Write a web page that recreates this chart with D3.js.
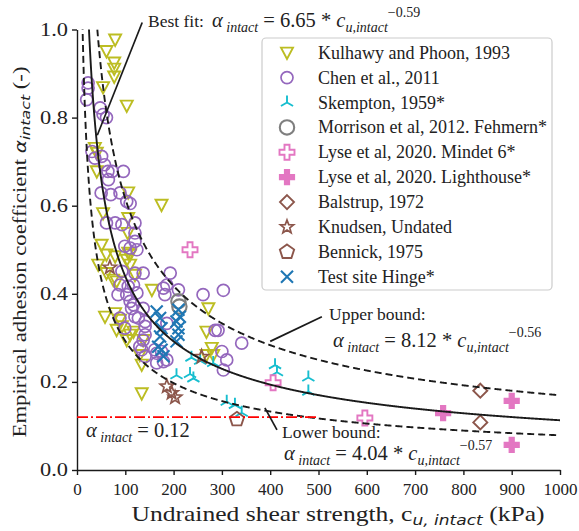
<!DOCTYPE html>
<html>
<head>
<meta charset="utf-8">
<script src="https://cdn.jsdelivr.net/npm/d3@7"></script>
<style>
  body { margin: 0; background: #fff; }
  svg { display: block; }
  svg text { font-family: "Liberation Serif", "Times New Roman", serif; }
</style>
</head>
<body>
<svg id="chart" width="579" height="531"></svg>
<script>
// ---- data: [c_u,intact (kPa), alpha_intact] ----
const kulhawy = [
  [79,0.977],[61,0.951],[77,0.925],[77,0.911],[77,0.893],[54,0.869],[103,0.827],
  [37,0.731],[41,0.72],[41,0.678],[175,0.602],[106,0.63],[54,0.583],[106,0.572],[105,0.538],
  [51,0.511],[61,0.489],[79,0.485],[106,0.493],[110,0.489],[44,0.466],[103,0.477],[110,0.466],
  [61,0.447],[75,0.432],[82,0.428],[120,0.443],[155,0.409],
  [79,0.356],[58,0.348],[89,0.341],[82,0.318],[93,0.326],[117,0.314],[110,0.307],[137,0.295],
  [103,0.295],[130,0.261],[134,0.239],[134,0.174],
  [272,0.367],[268,0.314],[279,0.277],[282,0.261],[268,0.261]
];
const chen = [
  [23,0.879],[23,0.867],[20,0.841],[48,0.822],[54,0.807],[61,0.80],
  [31,0.723],[37,0.708],[51,0.712],[57,0.693],[64,0.678],[73,0.678],[96,0.678],[65,0.659],
  [50,0.629],[70,0.625],[89,0.629],[103,0.61],[110,0.605],
  [61,0.561],[79,0.561],[93,0.557],[120,0.561],[120,0.538],[120,0.519],[99,0.508],[110,0.504],[124,0.50],
  [93,0.451],[120,0.447],[137,0.447],[89,0.42],[106,0.417],[117,0.42],[124,0.402],[85,0.398],[103,0.398],
  [110,0.383],[113,0.367],[117,0.375],[137,0.367],[89,0.345],[120,0.348],[127,0.345],[99,0.322],
  [141,0.337],[141,0.326],[141,0.307],[137,0.295],[130,0.28],[134,0.273],[141,0.258],[161,0.273],
  [165,0.265],[175,0.269],[186,0.25],[165,0.243],[179,0.246],
  [179,0.413],[182,0.398],[193,0.447],[186,0.42],[210,0.409],[186,0.333],
  [261,0.398],[303,0.408],[286,0.317],[292,0.317],[341,0.288],[300,0.269],[310,0.25],[303,0.227]
];
const skempton = [
  [206,0.215],[234,0.218],[241,0.208],[237,0.255],[255,0.248],[282,0.243],
  [310,0.155],[327,0.148],[341,0.13],[410,0.238],[414,0.222],[479,0.21],[479,0.178]
];
const morrison = [[210,0.383],[212,0.371]];
const lyseMindet = [[234,0.50],[406,0.198],[596,0.118]];
const lyseLighthouse = [[758,0.129],[900,0.157],[900,0.057]];
const balstrup = [[835,0.18],[835,0.108]];
const knudsen = [[68,0.46],[186,0.19],[196,0.175],[203,0.165],[258,0.257]];
const bennick = [[331,0.115]];
const hinge = [
  [165,0.36],[172,0.345],[175,0.322],[172,0.303],[168,0.28],[175,0.273],[179,0.258],
  [210,0.364],[213,0.348],[206,0.337],[210,0.322],[210,0.307],[206,0.292]
];

// power-law fits: alpha = a * cu^b
const bestFit = { a: 6.65, b: -0.59 };
const upperBound = { a: 8.12, b: -0.56 };
const lowerBound = { a: 4.04, b: -0.57 };
const alphaMin = 0.12;
const alphaMinExtent = [0, 500];

const xTicks = [0,100,200,300,400,500,600,700,800,900,1000];
const yTicks = [0,0.2,0.4,0.6,0.8,1.0];

const legendLabels = [
  "Kulhawy and Phoon, 1993","Chen et al., 2011","Skempton, 1959*",
  "Morrison et al, 2012. Fehmern*","Lyse et al, 2020. Mindet 6*","Lyse et al, 2020. Lighthouse*",
  "Balstrup, 1972","Knudsen, Undated","Bennick, 1975","Test site Hinge*"
];

// ---- scales ----
const svg = d3.select("#chart");
const x = d3.scaleLinear().domain([0, 1000]).range([77, 560]);
const y = d3.scaleLinear().domain([0, 1]).range([470, 29.5]);
const ink = "#1a1a1a";

// ---- marker shapes ----
const poly = pts => "M" + pts.map(p => p.join(",")).join("L") + "Z";
const shapes = {
  triDown: s => poly([[-s,-s*0.85],[s,-s*0.85],[0,s*1.05]]),
  triArms: s => `M0,0L0,${-s}M0,0L${-0.866*s},${0.5*s}M0,0L${0.866*s},${0.5*s}`,
  plus: s => { const a = s/3; return poly([[-a,-s],[a,-s],[a,-a],[s,-a],[s,a],[a,a],[a,s],[-a,s],[-a,a],[-s,a],[-s,-a],[-a,-a]]); },
  diamond: s => poly([[0,-s],[s,0],[0,s],[-s,0]]),
  star: s => { const p = []; for (let i = 0; i < 10; i++) { const r = i % 2 ? s*0.42 : s; const t = -Math.PI/2 + i*Math.PI/5; p.push([r*Math.cos(t), r*Math.sin(t)]); } return poly(p); },
  pentagon: s => { const p = []; for (let i = 0; i < 5; i++) { const t = -Math.PI/2 + i*2*Math.PI/5; p.push([s*Math.cos(t), s*Math.sin(t)]); } return poly(p); },
  cross: s => `M${-s},${-s}L${s},${s}M${-s},${s}L${s},${-s}`,
  circle: s => `M${s},0A${s},${s} 0 1,1 ${-s},0A${s},${s} 0 1,1 ${s},0Z`
};

const series = [
  { data: kulhawy, shape: "triDown", size: 6, stroke: "#bcbd22", fill: "none", sw: 1.9 },
  { data: chen, shape: "circle", size: 6, stroke: "#9467bd", fill: "none", sw: 1.7 },
  { data: skempton, shape: "triArms", size: 7, stroke: "#17becf", fill: "none", sw: 1.9 },
  { data: morrison, shape: "circle", size: 7.2, stroke: "#7f7f7f", fill: "none", sw: 2.1 },
  { data: lyseMindet, shape: "plus", size: 7.5, stroke: "#e377c2", fill: "#fff", sw: 1.9 },
  { data: lyseLighthouse, shape: "plus", size: 7.5, stroke: "#e377c2", fill: "#e377c2", sw: 1.2 },
  { data: balstrup, shape: "diamond", size: 7, stroke: "#8c564b", fill: "none", sw: 1.9 },
  { data: knudsen, shape: "star", size: 7, stroke: "#8c564b", fill: "none", sw: 1.7 },
  { data: bennick, shape: "pentagon", size: 7.5, stroke: "#8c564b", fill: "none", sw: 1.9 },
  { data: hinge, shape: "cross", size: 6, stroke: "#1f77b4", fill: "none", sw: 2.1 }
];

// ---- axes ----
const xAxis = svg.append("g").attr("transform", "translate(0,470)")
  .call(d3.axisBottom(x).tickValues(xTicks).tickSize(5).tickSizeOuter(0).tickPadding(8).tickFormat(d3.format("d")));
const yAxis = svg.append("g").attr("transform", "translate(77,0)")
  .call(d3.axisLeft(y).tickValues(yTicks).tickSize(5).tickSizeOuter(0).tickPadding(4).tickFormat(d3.format(".1f")));
[xAxis, yAxis].forEach(g => {
  g.attr("font-family", null);
  g.select(".domain").attr("stroke", ink).attr("stroke-width", 1.4);
  g.selectAll(".tick line").attr("stroke", ink).attr("stroke-width", 1.4);
  g.selectAll(".tick text").attr("font-size", 17).attr("fill", "#222");
});
yAxis.selectAll(".tick text").attr("font-size", 18).attr("textLength", 28).attr("lengthAdjust", "spacingAndGlyphs");

// ---- scatter points ----
const pts = svg.append("g");
series.forEach(s => {
  pts.append("g").selectAll("path").data(s.data).join("path")
    .attr("transform", d => `translate(${x(d[0])},${y(d[1])})`)
    .attr("d", shapes[s.shape](s.size))
    .attr("fill", s.fill).attr("stroke", s.stroke).attr("stroke-width", s.sw);
});

// ---- fit curves ----
svg.append("defs").append("clipPath").attr("id", "plotclip")
  .append("rect").attr("x", 77).attr("y", 29.5).attr("width", 483).attr("height", 440.5);
const cuGrid = d3.range(5, 1000.5, 1);
const curve = f => d3.line().x(c => x(c)).y(c => y(f.a * Math.pow(c, f.b)))(cuGrid);
const curves = svg.append("g").attr("clip-path", "url(#plotclip)");
curves.append("path").attr("d", curve(upperBound)).attr("fill", "none").attr("stroke", ink).attr("stroke-width", 1.9).attr("stroke-dasharray", "7,4");
curves.append("path").attr("d", curve(lowerBound)).attr("fill", "none").attr("stroke", ink).attr("stroke-width", 1.9).attr("stroke-dasharray", "7,4");
curves.append("path").attr("d", curve(bestFit)).attr("fill", "none").attr("stroke", ink).attr("stroke-width", 1.9);

// minimum alpha line
svg.append("line")
  .attr("x1", x(alphaMinExtent[0])).attr("x2", x(alphaMinExtent[1]))
  .attr("y1", y(alphaMin)).attr("y2", y(alphaMin))
  .attr("stroke", "#ff0000").attr("stroke-width", 1.9).attr("stroke-dasharray", "11,3,2,3");

// ---- annotation pointers ----
const pointers = [
  [[42, 0.76], [135, 1.016]],
  [[400, 0.292], [507, 0.348]],
  [[389, 0.141], [414, 0.091]]
];
pointers.forEach(p => svg.append("line")
  .attr("x1", x(p[0][0])).attr("y1", y(p[0][1]))
  .attr("x2", x(p[1][0])).attr("y2", y(p[1][1]))
  .attr("stroke", ink).attr("stroke-width", 1.7));

// formula text: alpha_intact = K * c_{u,intact}^{exp}
function alphaFormula(px, py, rhs, k, e) {
  const t = svg.append("text").attr("x", px).attr("y", py).attr("font-size", 20.5).attr("fill", "#222");
  const add = (txt, o) => {
    const s = t.append("tspan").text(txt);
    if (o.it) s.attr("font-style", "italic");
    if (o.sz) s.attr("font-size", o.sz);
    if (o.dy) s.attr("dy", o.dy);
  };
  add("α", { it: true });
  add(" intact", { it: true, sz: 14, dy: 5 });
  add(" = " + k + (rhs ? " * " : ""), { dy: -5 });
  if (rhs) {
    add("c", { it: true });
    add("u,intact", { it: true, sz: 14, dy: 5 });
    add(e, { sz: 14, dy: -15 });
  }
  return t;
}

const label = (px, py, txt) => svg.append("text").attr("x", px).attr("y", py).attr("font-size", 17.5).attr("fill", "#222").text(txt);
label(148, 27, "Best fit:");
alphaFormula(212, 27, true, "6.65", "−0.59");
label(329, 320, "Upper bound:");
alphaFormula(333, 347, true, "8.12", "−0.56");
label(282, 438, "Lower bound:");
alphaFormula(284, 460, true, "4.04", "−0.57");
alphaFormula(86, 437, false, "0.12", "");

// ---- axis labels ----
const xl = svg.append("text").attr("x", 338).attr("y", 521).attr("text-anchor", "middle").attr("font-size", 21).attr("fill", "#222")
  .attr("textLength", 413).attr("lengthAdjust", "spacingAndGlyphs");
xl.append("tspan").text("Undrained shear strength, c");
xl.append("tspan").text("u, intact").attr("font-family", "DejaVu Sans").attr("font-style", "italic").attr("font-size", 14).attr("dy", 4);
xl.append("tspan").text(" (kPa)").attr("dy", -4);

const yl = svg.append("text").attr("transform", "translate(26,252) rotate(-90)").attr("text-anchor", "middle").attr("font-size", 18).attr("fill", "#222")
  .attr("textLength", 371).attr("lengthAdjust", "spacingAndGlyphs");
yl.append("tspan").text("Empirical adhesion coefficient ");
yl.append("tspan").text("α").attr("font-family", "DejaVu Sans").attr("font-style", "italic").attr("font-size", 16);
yl.append("tspan").text("intact").attr("font-family", "DejaVu Sans").attr("font-style", "italic").attr("font-size", 12.5).attr("dy", 4);
yl.append("tspan").text(" (-)").attr("dy", -4);

// ---- legend ----
const lg = svg.append("g");
lg.append("rect").attr("x", 262).attr("y", 38).attr("width", 290).attr("height", 252).attr("rx", 4)
  .attr("fill", "#fff").attr("fill-opacity", 0.85).attr("stroke", "#cccccc").attr("stroke-width", 1.2);
series.forEach((s, i) => {
  const cy = 52.7 + i * 24.9;
  lg.append("path").attr("transform", `translate(287,${cy})`)
    .attr("d", shapes[s.shape](s.size))
    .attr("fill", s.fill).attr("stroke", s.stroke).attr("stroke-width", s.sw);
  lg.append("text").attr("x", 318).attr("y", cy + 6).attr("font-size", 18).attr("fill", "#222").text(legendLabels[i]);
});
</script>
</body>
</html>
